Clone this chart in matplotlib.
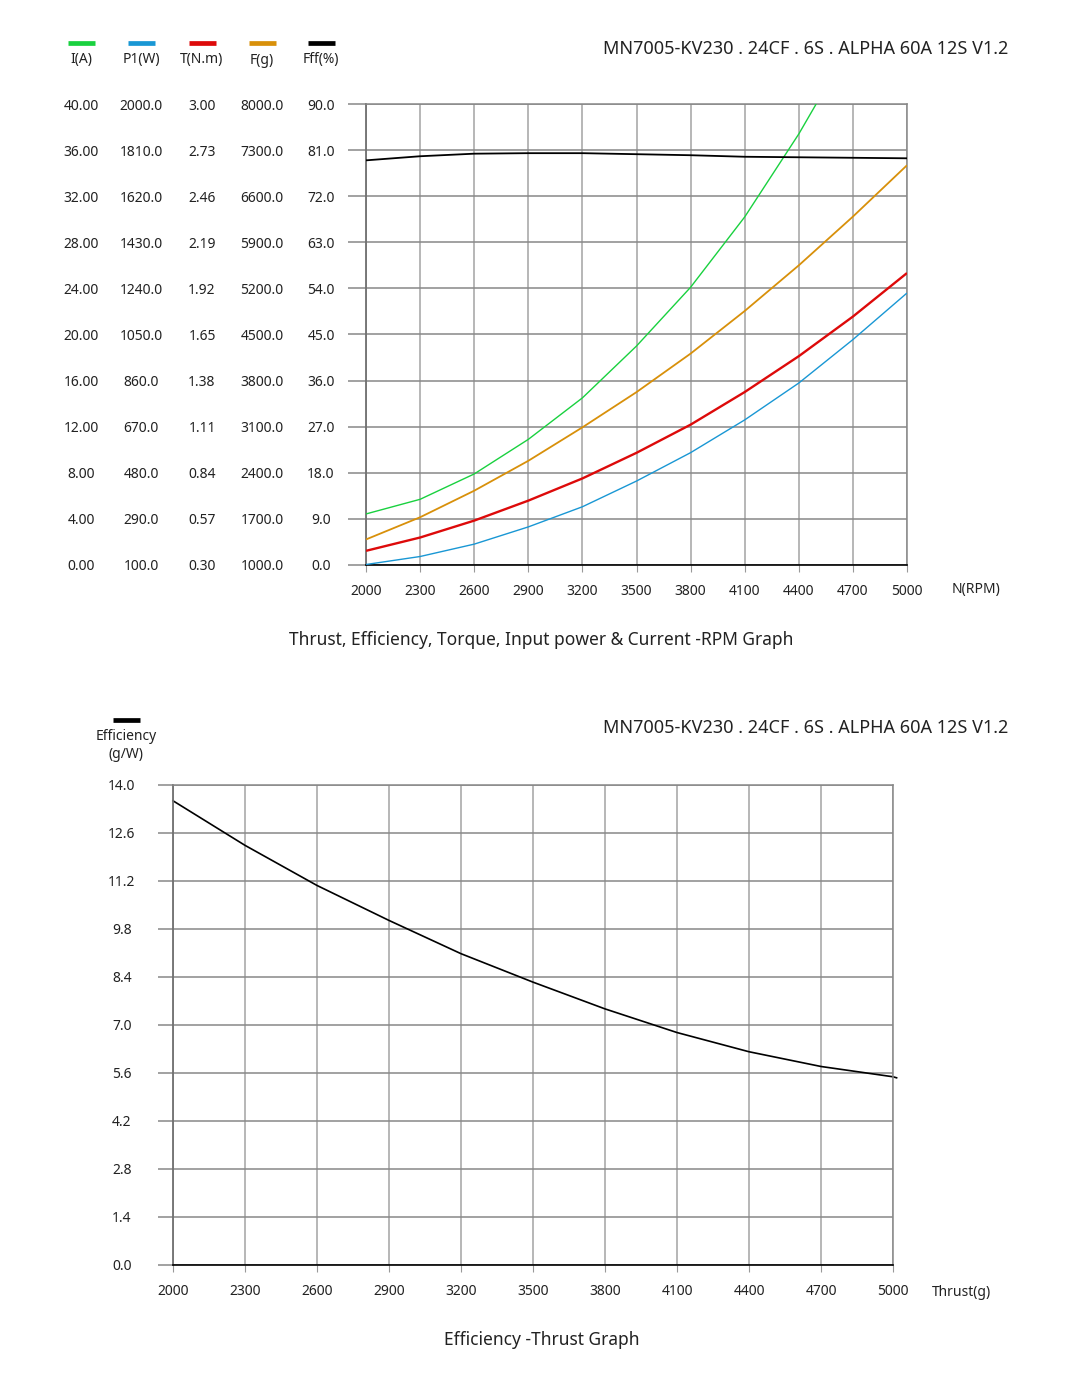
import numpy as np
import matplotlib.pyplot as plt
from matplotlib.lines import Line2D

plt.rcParams['font.family'] = ['Noto Sans', 'DejaVu Sans']
TXT = '#222222'

# ---- top chart data ----
rpm = [2000, 2300, 2600, 2900, 3200, 3500, 3800, 4100, 4400, 4700, 5000]
current_a = [4.43, 5.7, 7.9, 10.9, 14.5, 19.0, 24.1, 30.2, 37.4, 45.5]
power_w = [102, 135, 186, 257, 340, 446, 563, 698, 850, 1029, 1221]
torque_nm = [0.383, 0.461, 0.560, 0.677, 0.807, 0.957, 1.122, 1.313, 1.523, 1.755, 2.010]
thrust_g = [1388, 1725, 2128, 2582, 3090, 3625, 4210, 4857, 5550, 6290, 7070]
eff_pct = [79.0, 79.8, 80.3, 80.4, 80.4, 80.2, 80.0, 79.7, 79.6, 79.5, 79.4]

i_ticks = [0, 4, 8, 12, 16, 20, 24, 28, 32, 36, 40]
p_ticks = [100, 290, 480, 670, 860, 1050, 1240, 1430, 1620, 1810, 2000]
t_ticks = [0.30, 0.57, 0.84, 1.11, 1.38, 1.65, 1.92, 2.19, 2.46, 2.73, 3.00]
f_ticks = [1000, 1700, 2400, 3100, 3800, 4500, 5200, 5900, 6600, 7300, 8000]
e_ticks = [0, 9, 18, 27, 36, 45, 54, 63, 72, 81, 90]

# ---- bottom chart data ----
thrust_x = [2000, 2300, 2600, 2900, 3200, 3500, 3800, 4100, 4400, 4700, 5000, 5015]
gw = [13.54, 12.24, 11.07, 10.05, 9.08, 8.25, 7.47, 6.78, 6.22, 5.79, 5.49, 5.46]
gw_ticks = [0.0, 1.4, 2.8, 4.2, 5.6, 7.0, 8.4, 9.8, 11.2, 12.6, 14.0]

title = 'MN7005-KV230 . 24CF . 6S . ALPHA 60A 12S V1.2'

W, H = 1076, 1397
fig = plt.figure(figsize=(W / 100, H / 100), dpi=100)


def fx(px):
    return px / W


def fy(py):
    return 1 - py / H


def style_grid(ax, xt, yt):
    ax.set_xticks(xt)
    ax.set_yticks(yt)
    ax.grid(True, axis='x', color='#aaaaaa', lw=1.2)
    ax.grid(True, axis='y', color='#888888', lw=1.1)
    for s in ['top', 'right']:
        ax.spines[s].set_color('#888888')
        ax.spines[s].set_linewidth(1.1)
    ax.spines['left'].set_color('#707070')
    ax.spines['left'].set_linewidth(1.3)
    ax.spines['bottom'].set_color('black')
    ax.spines['bottom'].set_linewidth(1.2)
    ax.set_axisbelow(True)


# ================= top chart =================
colors = ['#19d13f', '#1997d4', '#dd0a0a', '#d8900a', '#000000']
names = ['I(A)', 'P1(W)', 'T(N.m)', 'F(g)', 'Fff(%)']
col_x = [81, 141, 202, 262, 321]

ax = fig.add_axes([fx(366), fy(565), fx(907 - 366), (565 - 104) / H])
ax.set_xlim(2000, 5000)
ax.set_ylim(0, 90)
style_grid(ax, rpm, e_ticks)
ax.tick_params(axis='x', length=5, color='#999999', labelsize=10, pad=8.5, labelcolor=TXT)
ax.tick_params(axis='y', length=13, color='#888888', width=1.1, labelleft=False)
ax.set_xticklabels([str(v) for v in rpm])

series = [(current_a, i_ticks, '{:.2f}', 1.0),
          (power_w, p_ticks, '{:.1f}', 1.0),
          (torque_nm, t_ticks, '{:.2f}', 1.7),
          (thrust_g, f_ticks, '{:.1f}', 1.3),
          (eff_pct, e_ticks, '{:.1f}', 1.3)]

for k, (vals, ticks, fmt, lw) in enumerate(series):
    tw = ax.twinx()
    tw.set_ylim(ticks[0], ticks[-1])
    tw.set_xlim(2000, 5000)
    for s in tw.spines.values():
        s.set_visible(False)
    tw.yaxis.tick_left()
    tw.set_yticks(ticks)
    tw.set_yticklabels([fmt.format(v) for v in ticks], ha='center')
    tw.tick_params(axis='y', length=0, labelsize=10, labelcolor=TXT,
                   pad=(366 - col_x[k]) * 0.72)
    tw.plot(rpm[:len(vals)], vals, color=colors[k], lw=lw, solid_capstyle='butt')
    # legend swatch + column header
    fig.add_artist(Line2D([fx(col_x[k] - 13.5), fx(col_x[k] + 13.5)], [fy(43), fy(43)],
                          color=colors[k], lw=3.4, solid_capstyle='butt'))
    fig.text(fx(col_x[k]), fy(60), names[k], ha='center', va='center',
             fontsize=10, color=TXT)

fig.text(fx(1008), fy(49), title, ha='right', va='center', fontsize=13, color=TXT)
fig.text(fx(952), fy(590), 'N(RPM)', ha='left', va='center', fontsize=10, color=TXT)
fig.text(fx(541), fy(640), 'Thrust, Efficiency, Torque, Input power & Current -RPM Graph',
         ha='center', va='center', fontsize=12.5, color=TXT)

# ================= bottom chart =================
bx = fig.add_axes([fx(173), fy(1265), fx(893 - 173), (1265 - 785) / H])
bx.set_xlim(2000, 5000)
bx.set_ylim(0, 14)
style_grid(bx, rpm, gw_ticks)
bx.set_xticklabels([str(v) for v in rpm])
bx.set_yticklabels(['{:.1f}'.format(v) for v in gw_ticks], ha='center')
bx.tick_params(axis='x', length=5, color='#999999', labelsize=10, pad=9, labelcolor=TXT)
bx.tick_params(axis='y', length=11, color='#888888', width=1.1, labelsize=10,
               labelcolor=TXT, pad=(162 - 126) * 0.72)
bx.plot(thrust_x, gw, color='black', lw=1.2, clip_on=False)

fig.add_artist(Line2D([fx(113), fx(140)], [fy(720), fy(720)], color='black', lw=3.4,
                      solid_capstyle='butt'))
fig.text(fx(126), fy(737), 'Efficiency', ha='center', va='center', fontsize=10, color=TXT)
fig.text(fx(126), fy(754), '(g/W)', ha='center', va='center', fontsize=10, color=TXT)
fig.text(fx(1008), fy(728), title, ha='right', va='center', fontsize=13, color=TXT)
fig.text(fx(932), fy(1292), 'Thrust(g)', ha='left', va='center', fontsize=10, color=TXT)
fig.text(fx(542), fy(1340), 'Efficiency -Thrust Graph', ha='center', va='center',
         fontsize=12.5, color=TXT)

fig.savefig('out.png', dpi=100, facecolor='white')
